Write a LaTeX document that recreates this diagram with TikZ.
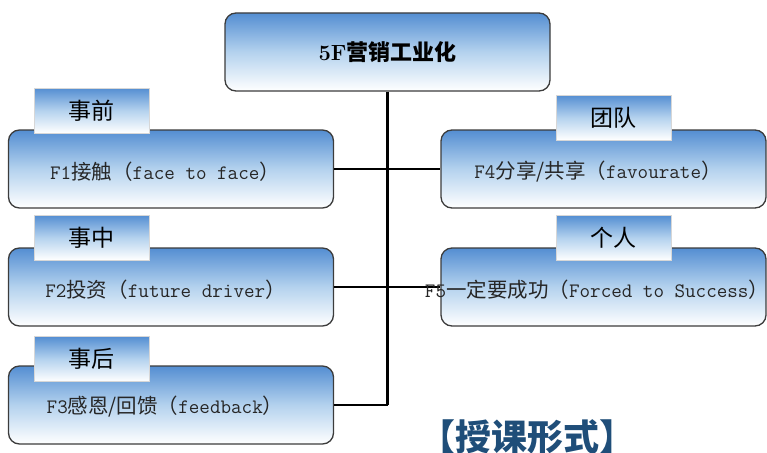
\documentclass[tikz,border=0pt]{standalone}
\usepackage{fontspec}
\setmonofont{Latin Modern Mono}
\newfontfamily\cjk{Noto Sans CJK SC}
\begin{document}
\begin{tikzpicture}[x=1pt,y=-1pt,
  boxshade/.style={top color={rgb,255:red,84;green,142;blue,210}, bottom color=white, middle color={rgb,255:red,180;green,210;blue,238}},
  mainbox/.style={boxshade, draw={rgb,255:red,60;green,60;blue,60}, line width=1.3pt, rounded corners=11pt, inner sep=0pt},
  tabbox/.style={boxshade, draw={rgb,255:red,215;green,215;blue,215}, line width=0.6pt, inner sep=0pt},
  conn/.style={line width=2.6pt, black},
  lbl/.style={font=\fontsize{20.5}{23}\selectfont, inner sep=0pt, text=black!85},
  tablbl/.style={font=\cjk\fontsize{23}{25}\selectfont, inner sep=0pt},
]
\useasboundingbox (0,0) rectangle (767,452);
% boxes (shapes)
\node[mainbox, minimum width=325pt, minimum height=78pt] (top) at (387.5,52) {};
\node[mainbox, minimum width=325pt, minimum height=78pt] (f1) at (171,169) {};
\node[mainbox, minimum width=325pt, minimum height=78pt] (f2) at (171,287) {};
\node[mainbox, minimum width=325pt, minimum height=78pt] (f3) at (171,405) {};
\node[mainbox, minimum width=325pt, minimum height=78pt] (f4) at (603.5,169) {};
\node[mainbox, minimum width=325pt, minimum height=78pt] (f5) at (603.5,287) {};
% connectors
\coordinate (trunkend) at (top.south |- f3.east);
\draw[conn] (top.south) -- (trunkend);
\draw[conn] (f1.east) -- (f4.west);
\draw[conn] (f2.east) -- (f5.west);
\draw[conn] (f3.east) -- (trunkend);
% tabs
\node[tabbox, minimum width=115pt, minimum height=45pt] (t1) at (91.5,110.5) {};
\node[tabbox, minimum width=115pt, minimum height=45pt] (t2) at (91.5,237.5) {};
\node[tabbox, minimum width=115pt, minimum height=45pt] (t3) at (91.5,359) {};
\node[tabbox, minimum width=115pt, minimum height=45pt] (t4) at (613.5,117.5) {};
\node[tabbox, minimum width=115pt, minimum height=45pt] (t5) at (613.5,238) {};
\node[tablbl] (t1l) at (t1) {事前};
\node[tablbl] (t2l) at (t2) {事中};
\node[tablbl] (t3l) at (t3) {事后};
\node[tablbl] (t4l) at (t4) {团队};
\node[tablbl] (t5l) at (t5) {个人};
% texts
\node[inner sep=0pt, font=\fontsize{22}{25}\selectfont\bfseries] (topl) at (387.5,52) {5F{\cjk 营销工业化}};
\node[lbl] (f1l) at (165,172) {\ttfamily F1{\cjk 接触（}face to face{\cjk ）}};
\node[lbl] (f2l) at (165.5,290) {\ttfamily F2{\cjk 投资（}future driver{\cjk ）}};
\node[lbl] (f3l) at (165,407) {\ttfamily F3{\cjk 感恩/回馈（}feedback{\cjk ）}};
\node[lbl] (f4l) at (598,172) {\ttfamily F4{\cjk 分享/共享（}favourate{\cjk ）}};
\node[lbl] (f5l) at (597,290) {\ttfamily F5{\cjk 一定要成功（}Forced to Success{\cjk ）}};
\node[inner sep=0pt, font=\cjk\bfseries\fontsize{36}{38}\selectfont, text={rgb,255:red,31;green,78;blue,121}] (form) at (527.5,437) {【授课形式】};
\end{tikzpicture}
\end{document}
